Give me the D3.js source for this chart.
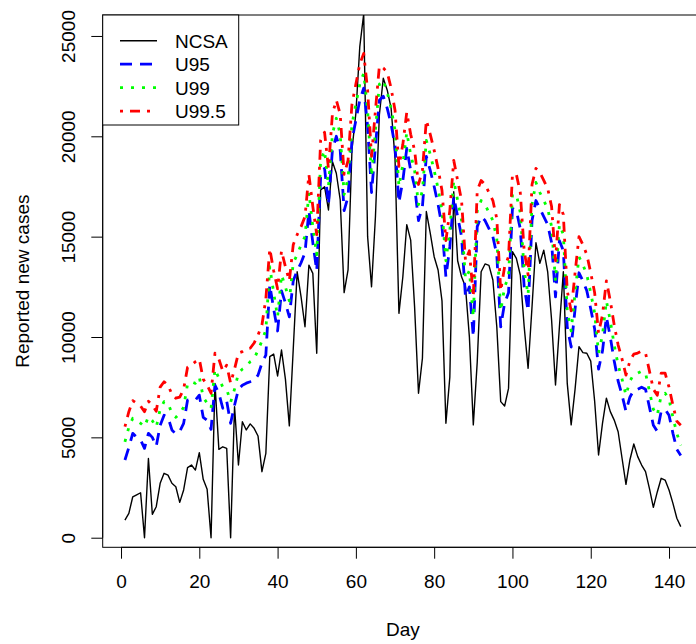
<!DOCTYPE html>
<html>
<head>
<meta charset="utf-8">
<script src="https://cdn.jsdelivr.net/npm/d3@7/dist/d3.min.js"></script>
<style>
body { margin: 0; background: #fff; }
text { font-family: "Liberation Sans", Arial, sans-serif; }
</style>
</head>
<body>
<script>
const w = 696
const h = 644

// reported new cases per day (NCSA) and the three upper bounds
const ncsa = [880,1215,2040,2140,2240,0,3950,1165,1545,2710,3210,3120,2710,2540,1760,2380,3490,3620,3370,4240,
  2910,2410,0,7690,4400,4530,4450,0,6530,3620,5780,5370,5670,5450,5070,3290,4200,9020,9150,8060,
  9350,7900,5570,9400,13250,12000,10510,13580,13170,9190,17320,17490,16330,18740,18160,16830,12210,13340,19320,21150,
  24470,26100,15000,12500,16000,21060,22890,22310,21400,18900,11180,13000,15600,14830,11500,7200,8940,16250,15170,14000,
  13340,11800,5700,8000,17240,13800,13000,12500,10000,5620,8740,13250,13640,13570,12840,10510,6780,6560,7440,14250,
  13920,13090,10510,8440,11510,14700,13670,14330,13250,10850,7610,10510,13250,7690,5620,7400,9520,9220,9190,8800,
  6800,4120,5700,6950,6280,5860,5280,3960,2660,3870,4670,4040,3620,3290,2450,1510,2280,2960,2870,2380,
  1710,970,550]
const u95 = [3870,4500,5200,5000,4870,4450,5200,5000,4550,5600,6100,6000,5370,5170,5300,5700,6860,6900,6860,7100,
  6000,5850,5400,7600,7200,6450,6800,5700,6600,7400,7600,7700,7770,7820,8100,8700,9100,12600,11400,10300,
  12300,11700,11000,12800,13300,13700,14200,16300,14700,13300,18000,18400,16600,19300,20000,19300,16300,17000,19800,20800,
  21800,22400,20500,17200,19500,21800,22000,21400,20600,19500,16700,17800,19400,18300,17500,15800,16500,19000,18300,17500,
  16600,15500,13000,14500,17000,16000,15000,12000,12500,10000,15500,16000,15800,15400,15000,14100,10500,11700,12200,16400,
  16300,15400,12500,11300,15800,16800,16400,16000,15600,14700,12000,14800,14300,10500,9500,11400,13200,12800,12300,11400,
  10400,8400,9300,11000,10000,8800,7800,7100,6300,7000,7350,7400,7500,7400,6500,5600,5300,6300,6400,6100,
  5200,4400,4100]
const u99 = [4780,5500,5950,5850,5700,5530,6030,5830,5500,6400,6780,6700,6200,6000,6200,6500,7660,7770,7690,8000,
  7000,6700,6450,8400,7950,7500,7400,6750,7400,8200,8400,8520,8770,8900,9350,9800,10350,13500,12200,11000,
  13100,12500,11800,13700,14100,14600,15000,17200,15500,14100,18800,19300,17500,20100,20900,20100,17100,17900,20600,21600,
  22600,23140,21300,18000,20300,22600,22800,22200,21400,20300,17500,18600,20200,19100,18300,16600,17300,19800,19100,18300,
  17400,16300,13800,15300,17800,16800,15800,12900,13300,11000,16300,16800,16600,16200,15800,14900,11300,12500,13000,17100,
  17100,16200,13300,12100,16600,17700,17200,16800,16400,15500,12800,15600,15100,11300,10300,12200,14000,13600,13100,12200,
  11200,9200,10100,11800,10800,9600,8600,7900,7100,7800,8150,8200,8300,8200,7300,6400,6100,7100,7200,6900,
  6000,5200,4600]
const u995 = [5530,6280,6830,6700,6560,6280,6800,6600,6300,7500,7770,7600,7150,6950,7000,7400,8490,8600,8770,8900,
  7900,7600,7200,9190,8900,8300,8600,7700,8400,9200,9270,9400,9440,9700,10100,10600,11900,14400,13300,12400,
  14300,13500,12800,14600,15100,15500,16000,18100,16500,15100,19800,20200,18400,21100,21800,21100,18100,18800,21600,22600,
  23600,24130,22300,19000,21300,23500,23400,23200,22400,21300,18500,19600,21200,20100,19300,17600,18300,20800,20100,19300,
  18400,17300,14800,16300,18800,17800,16800,13800,14300,12000,17300,17800,17600,17200,16800,15900,12300,13500,14000,18100,
  18100,17200,14300,13100,17600,18400,18200,17800,17400,16500,13800,16600,16100,12300,11300,13200,15000,14600,14100,13200,
  12200,10200,11100,12800,11800,10600,9600,8900,8100,8800,9150,9200,9300,9200,8300,7400,7100,8200,8200,7500,
  6600,5800,5600]
const days = d3.range(1, ncsa.length + 1)

const xTicks = [0, 20, 40, 60, 80, 100, 120, 140]
const yTicks = [0, 5000, 10000, 15000, 20000, 25000]
const seriesNames = ['NCSA', 'U95', 'U99', 'U99.5']

const pLeft = 102.7, pRight = 703, pTop = 15, pBottom = 547.3
const fs = 19

const svg = d3.select('body').append('svg').attr('width', w).attr('height', h)
svg.append('rect').attr('width', w).attr('height', h).attr('fill', '#fff')

const x = d3.scaleLinear().domain([-4.68, 148.68]).range([pLeft, pRight])
const y = d3.scaleLinear().domain([-478, 26044]).range([pBottom, pTop])

svg.append('clipPath').attr('id', 'clip')
  .append('rect').attr('x', pLeft).attr('y', pTop).attr('width', pRight - pLeft).attr('height', pBottom - pTop)

const styles = [
  {data: ncsa, color: '#000', width: 1.4, dash: null},
  {data: u95, color: '#0000ff', width: 2.8, dash: '12,8'},
  {data: u99, color: '#00ff00', width: 2.8, dash: '3,8'},
  {data: u995, color: '#ff0000', width: 2.8, dash: '3,7,10,7'}
]

const line = d3.line().x((d, i) => x(days[i])).y(d => y(d))
const plot = svg.append('g').attr('clip-path', 'url(#clip)')
styles.forEach(s => {
  plot.append('path').datum(s.data)
    .attr('d', line)
    .attr('fill', 'none')
    .attr('stroke', s.color)
    .attr('stroke-width', s.width)
    .attr('stroke-dasharray', s.dash)
    .attr('stroke-linejoin', 'round')
})

// axes
const xAxis = d3.axisBottom(x).tickValues(xTicks).tickSize(11.4).tickSizeOuter(0).tickPadding(15.8)
const gx = svg.append('g').attr('transform', 'translate(0,' + pBottom + ')').call(xAxis)
gx.select('.domain').remove()
gx.append('line').attr('x1', x(0)).attr('x2', x(140)).attr('stroke', '#000')
gx.selectAll('.tick line').attr('stroke', '#000')
gx.selectAll('text').attr('fill', '#000').style('font-size', fs + 'px')

const yAxis = d3.axisLeft(y).tickValues(yTicks).tickSize(11.4).tickSizeOuter(0).tickFormat(d3.format('d'))
const gy = svg.append('g').attr('transform', 'translate(' + pLeft + ',0)').call(yAxis)
gy.select('.domain').remove()
gy.append('line').attr('y1', y(0)).attr('y2', y(25000)).attr('stroke', '#000')
gy.selectAll('.tick line').attr('stroke', '#000')
gy.selectAll('text')
  .attr('fill', '#000')
  .style('font-size', fs + 'px')
  .attr('x', 0).attr('y', -27.5).attr('dy', 0)
  .attr('transform', 'rotate(-90)')
  .attr('text-anchor', 'middle')

svg.append('rect')
  .attr('x', pLeft).attr('y', pTop).attr('width', pRight - pLeft).attr('height', pBottom - pTop)
  .attr('fill', 'none').attr('stroke', '#000')

svg.append('text').text('Day')
  .attr('x', (pLeft + pRight) / 2).attr('y', 636)
  .attr('text-anchor', 'middle').style('font-size', fs + 'px')
svg.append('text').text('Reported new cases')
  .attr('transform', 'translate(29,' + ((pTop + pBottom) / 2) + ') rotate(-90)')
  .attr('text-anchor', 'middle').style('font-size', fs + 'px')

// legend
const lg = svg.append('g')
lg.append('rect').attr('x', pLeft).attr('y', pTop).attr('width', 136).attr('height', 110)
  .attr('fill', '#fff').attr('stroke', '#000')
seriesNames.forEach((name, i) => {
  const ly = 40.7 + i * 23.5
  lg.append('line').attr('x1', 120).attr('x2', 157).attr('y1', ly).attr('y2', ly)
    .attr('stroke', styles[i].color).attr('stroke-width', styles[i].width)
    .attr('stroke-dasharray', styles[i].dash)
  lg.append('text').text(name).attr('x', 175).attr('y', ly).attr('dy', '0.36em')
    .style('font-size', fs + 'px')
})
</script>
</body>
</html>
